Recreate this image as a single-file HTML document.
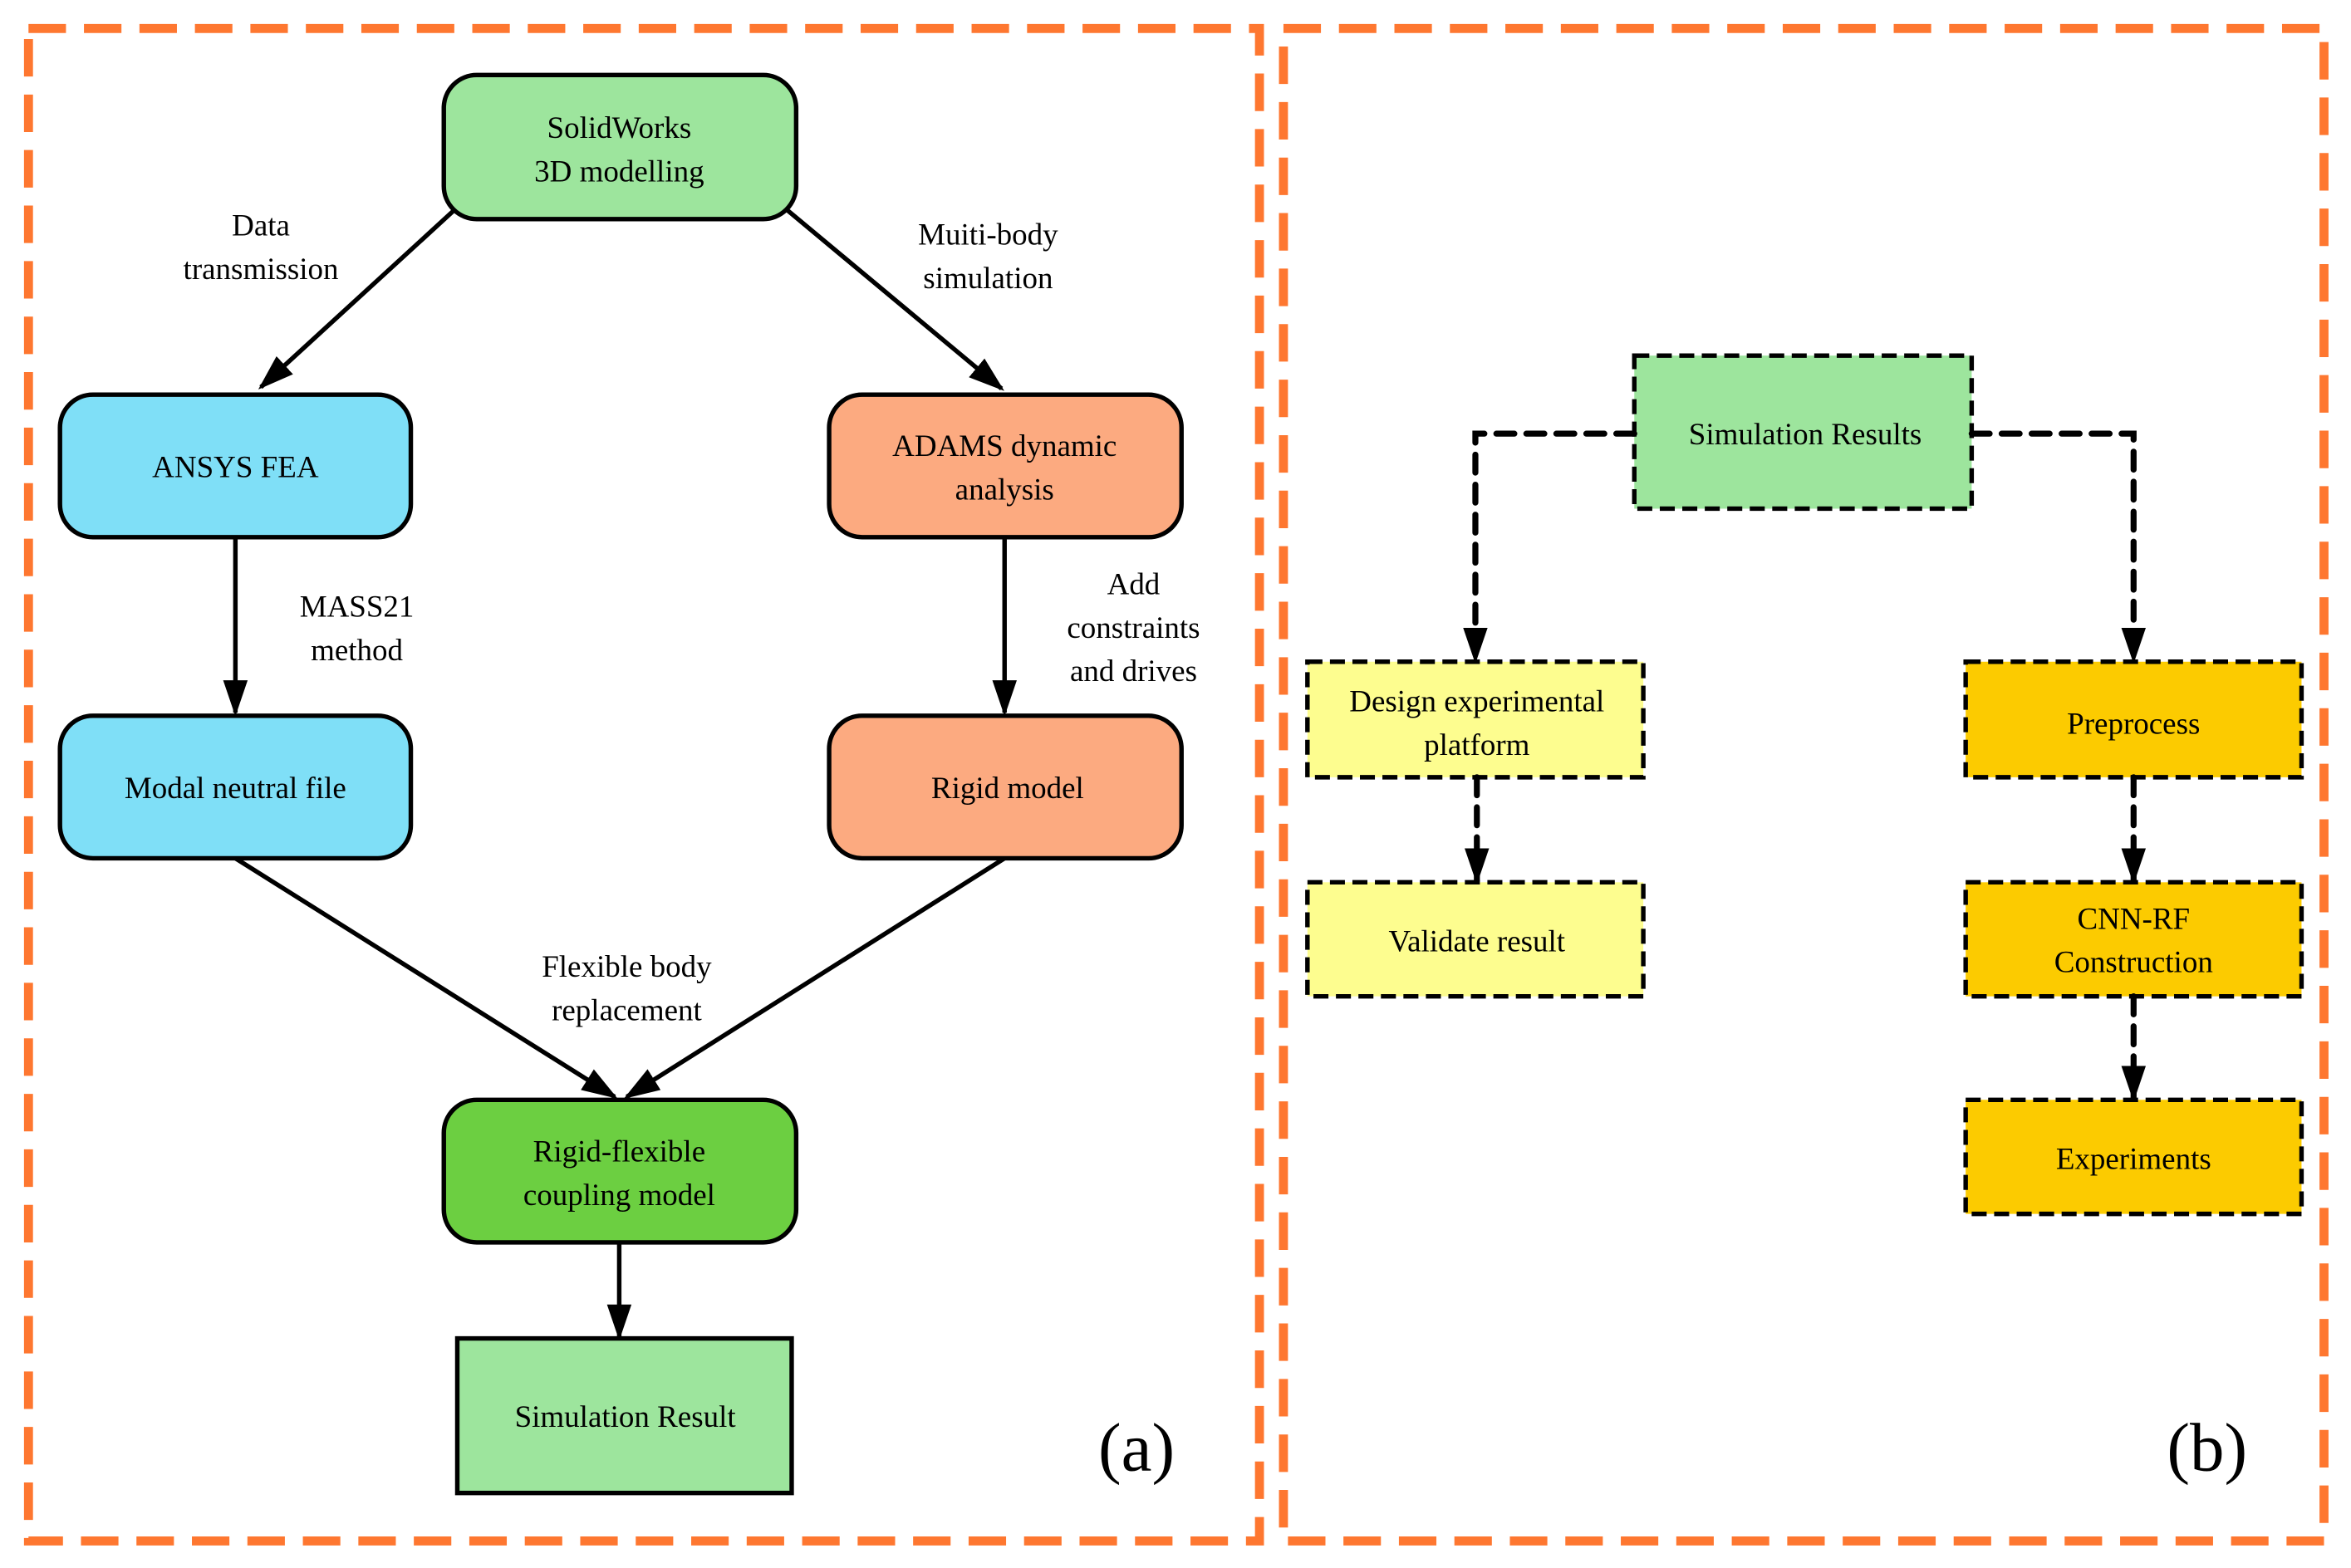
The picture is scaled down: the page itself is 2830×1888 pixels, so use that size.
<!DOCTYPE html>
<html><head><meta charset="utf-8"><style>html,body{margin:0;padding:0;background:#fff}svg{display:block}text{font-family:"Liberation Serif",serif}</style></head>
<body>
<svg width="2830" height="1888" viewBox="0 0 1568 1045" preserveAspectRatio="none" xmlns="http://www.w3.org/2000/svg" style="font-family:'Liberation Serif',serif" font-size="20.5">
<defs>
<marker id="ah2" viewBox="0 0 10 10" refX="9" refY="5" markerWidth="24" markerHeight="24" orient="auto" markerUnits="userSpaceOnUse"><path d="M0,1.6 L10,5 L0,8.4 z" fill="#000"/></marker>
</defs>
<rect x="0" y="0" width="1568" height="1045" fill="#fff"/>
<g fill="none" stroke="#fe7730" stroke-width="6" stroke-dasharray="25 12">
<rect x="19" y="19" width="821" height="1008"/>
<rect x="856" y="19" width="694" height="1008"/>
</g>
<g stroke="#000" stroke-width="3">
<rect x="296" y="50" width="235" height="96" rx="22" fill="#9de59d"/>
<rect x="40" y="263" width="234" height="95" rx="22" fill="#7fdff7"/>
<rect x="553" y="263" width="235" height="95" rx="22" fill="#fcaa80"/>
<rect x="40" y="477" width="234" height="95" rx="22" fill="#7fdff7"/>
<rect x="553" y="477" width="235" height="95" rx="22" fill="#fcaa80"/>
<rect x="296" y="733" width="235" height="95" rx="22" fill="#6ccf41"/>
<rect x="305" y="892" width="223" height="103" fill="#9de59d"/>
</g>
<g stroke="#000" stroke-width="3" fill="none" marker-end="url(#ah2)">
<line x1="303" y1="140" x2="174" y2="258"/>
<line x1="525" y1="140" x2="668" y2="259"/>
<line x1="157" y1="358" x2="157" y2="475"/>
<line x1="670" y1="358" x2="670" y2="475"/>
<line x1="157" y1="572" x2="410" y2="731"/>
<line x1="670" y1="572" x2="418" y2="731"/>
<line x1="413" y1="828" x2="413" y2="891"/>
</g>
<g text-anchor="middle" fill="#000">
<text x="413" y="92">SolidWorks</text><text x="413" y="121">3D modelling</text>
<text x="157" y="318">ANSYS FEA</text>
<text x="670" y="304">ADAMS dynamic</text><text x="670" y="333">analysis</text>
<text x="157" y="532">Modal neutral file</text>
<text x="672" y="532">Rigid model</text>
<text x="413" y="774">Rigid-flexible</text><text x="413" y="803">coupling model</text>
<text x="417" y="951">Simulation Result</text>
<text x="174" y="157">Data</text><text x="174" y="186">transmission</text>
<text x="659" y="163">Muiti-body</text><text x="659" y="192">simulation</text>
<text x="238" y="411">MASS21</text><text x="238" y="440">method</text>
<text x="756" y="396">Add</text><text x="756" y="425">constraints</text><text x="756" y="454">and drives</text>
<text x="418" y="651">Flexible body</text><text x="418" y="680">replacement</text>
<text x="758" y="980" font-size="46">(a)</text>
<text x="1472" y="980" font-size="46">(b)</text>
</g>
<g stroke="#000" stroke-width="3" stroke-dasharray="10 5">
<rect x="1090" y="237" width="225" height="102" fill="#9de59d"/>
<rect x="872" y="441" width="224" height="77" fill="#fdfd8f"/>
<rect x="872" y="588" width="224" height="76" fill="#fdfd8f"/>
<rect x="1311" y="441" width="224" height="77" fill="#fccb00"/>
<rect x="1311" y="588" width="224" height="76" fill="#fccb00"/>
<rect x="1311" y="733" width="224" height="76" fill="#fccb00"/>
</g>
<g stroke="#000" stroke-width="4" fill="none" stroke-dasharray="12 8" stroke-linecap="round" marker-end="url(#ah2)">
<polyline points="1090,289 984,289 984,440"/>
<polyline points="1315,289 1423,289 1423,440"/>
<line x1="985" y1="518" x2="985" y2="587"/>
<line x1="1423" y1="518" x2="1423" y2="587"/>
<line x1="1423" y1="664" x2="1423" y2="732"/>
</g>
<g text-anchor="middle" fill="#000">
<text x="1204" y="296">Simulation Results</text>
<text x="985" y="474">Design experimental</text><text x="985" y="503">platform</text>
<text x="985" y="634">Validate result</text>
<text x="1423" y="489">Preprocess</text>
<text x="1423" y="619">CNN-RF</text><text x="1423" y="648">Construction</text>
<text x="1423" y="779">Experiments</text>
</g>
</svg>
</body></html>
